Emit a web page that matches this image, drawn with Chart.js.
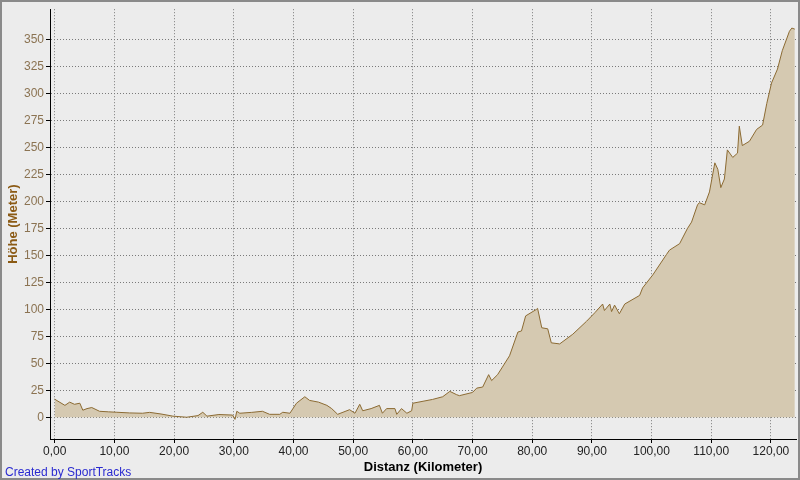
<!DOCTYPE html>
<html>
<head>
<meta charset="utf-8">
<script src="https://cdn.jsdelivr.net/npm/chart.js@4.4.1/dist/chart.umd.min.js"></script>
<style>
  html, body { margin: 0; padding: 0; background: #ececec; }
  #wrap { position: relative; width: 800px; height: 480px; }
  #frame { position: absolute; left: 0; top: 0; width: 800px; height: 480px; box-sizing: border-box;
           border: 2px solid #8a8a8a; pointer-events: none; }
  #credit { position: absolute; left: 5px; top: 465px; font: 12px "Liberation Sans", Arial, sans-serif; color: #2a2ad0; }
</style>
</head>
<body>
<div id="wrap">
  <canvas id="hoehenprofil" width="800" height="480"></canvas>
  <div id="frame"></div>
  <div id="credit">Created by SportTracks</div>
</div>
<script>
// Distanz in km, Höhe in Meter
const distanzKm = [
  0.0, 0.2, 1.7, 2.5, 3.3, 4.2, 4.7, 5.4, 6.2, 7.5, 9.0, 10.4, 12.5, 14.7, 15.9, 17.8, 19.8, 22.1, 24.0, 24.8,
  25.5, 27.5, 29.8, 30.2, 30.5, 31.0, 33.0, 34.8, 36.0, 37.7, 38.2, 39.4, 40.5, 41.9, 42.7, 44.2, 45.6, 46.4,
  47.4, 49.4, 50.3, 51.1, 51.6, 53.0, 54.4, 54.9, 55.6, 57.0, 57.3, 58.1, 59.0, 59.8, 60.0, 63.3, 65.0, 66.2,
  67.3, 67.8, 70.0, 70.7, 71.7, 72.7, 73.2, 74.2, 76.2, 77.6, 78.2, 78.9, 80.7, 80.9, 81.6, 82.6, 83.2, 84.6,
  86.8, 89.1, 90.5, 91.8, 92.1, 93.0, 93.3, 93.8, 94.6, 95.5, 98.0, 98.5, 100.2, 102.5, 103.0, 104.7, 106.0,
  106.7, 107.7, 108.0, 108.9, 109.7, 110.6, 111.1, 111.6, 112.2, 112.7, 113.6, 114.4, 114.7, 115.2, 116.4,
  117.6, 118.6, 119.3, 120.1, 121.1, 121.9, 123.1, 123.5, 124.0
];
const hoeheM = [
  17, 16, 11, 14, 12, 13, 6.5, 8, 9, 5.5, 5, 4.6, 4, 3.7, 4.5, 3, 1, 0, 1.5, 4.6,
  1, 2.5, 2, -2, 5.5, 3.7, 4.5, 5.5, 2.7, 2.7, 4.6, 3.7, 13, 19, 15.6, 14, 11, 8,
  2.7, 7, 3.7, 12, 6, 8, 11, 3.7, 8, 8, 2.7, 8, 3.7, 6, 13, 16.5, 19, 24,
  21, 20, 23, 27, 28, 39.5, 34, 39.5, 57, 79, 80, 94, 100, 101, 83, 82, 69, 68,
  77, 89, 97, 105, 99, 105, 98, 104, 96, 105, 113, 120, 132, 151, 155, 161, 175,
  181, 197, 199, 197, 209, 236, 230, 213, 221, 248, 241, 245, 270, 252, 256,
  267, 271, 291, 310, 323, 340, 358, 361, 360
];
const xTicks = [0, 10, 20, 30, 40, 50, 60, 70, 80, 90, 100, 110, 120];
const yTicks = [0, 25, 50, 75, 100, 125, 150, 175, 200, 225, 250, 275, 300, 325, 350];

const punkte = distanzKm.map((d, i) => ({ x: d, y: hoeheM[i] }));
const schrift = '"Liberation Sans", Arial, sans-serif';

new Chart(document.getElementById('hoehenprofil'), {
  type: 'line',
  data: {
    datasets: [{
      data: punkte,
      borderColor: '#8b6a32',
      borderWidth: 1,
      backgroundColor: '#d5c9b1',
      fill: 'origin',
      pointRadius: 0,
      tension: 0
    }]
  },
  options: {
    responsive: false,
    animation: false,
    events: [],
    layout: { padding: { top: 5, right: 4, left: 0, bottom: 0 } },
    plugins: { legend: { display: false }, tooltip: { enabled: false } },
    scales: {
      x: {
        type: 'linear',
        min: -0.8,
        max: 124.2,
        afterBuildTicks: s => { s.ticks = xTicks.map(v => ({ value: v })); },
        afterFit: s => { s.height = 41; },
        border: { color: '#000', width: 1, dash: [1, 2] },
        grid: { color: '#7a7a7a', tickLength: 4, tickColor: '#000', tickBorderDash: [] },
        ticks: {
          color: '#222',
          font: { family: schrift, size: 12 },
          padding: 1,
          maxRotation: 0,
          callback: v => v.toFixed(2).replace('.', ',')
        },
        title: { display: true, text: 'Distanz (Kilometer)', color: '#000',
                 font: { family: schrift, size: 13, weight: 'bold' }, padding: { top: 0, bottom: 5 } }
      },
      y: {
        min: -20.2,
        max: 378.5,
        afterBuildTicks: s => { s.ticks = yTicks.map(v => ({ value: v })); },
        afterFit: s => { s.width = 50; },
        border: { color: '#000', width: 1, dash: [1, 2] },
        grid: { color: '#7a7a7a', tickLength: 4, tickColor: '#000', tickBorderDash: [] },
        ticks: {
          color: '#8b7352',
          font: { family: schrift, size: 12 },
          padding: 2
        },
        title: { display: true, text: 'Höhe (Meter)', color: '#8b5a14',
                 font: { family: schrift, size: 13, weight: 'bold' }, padding: { top: 6, bottom: 0 } }
      }
    }
  }
});
</script>
</body>
</html>
